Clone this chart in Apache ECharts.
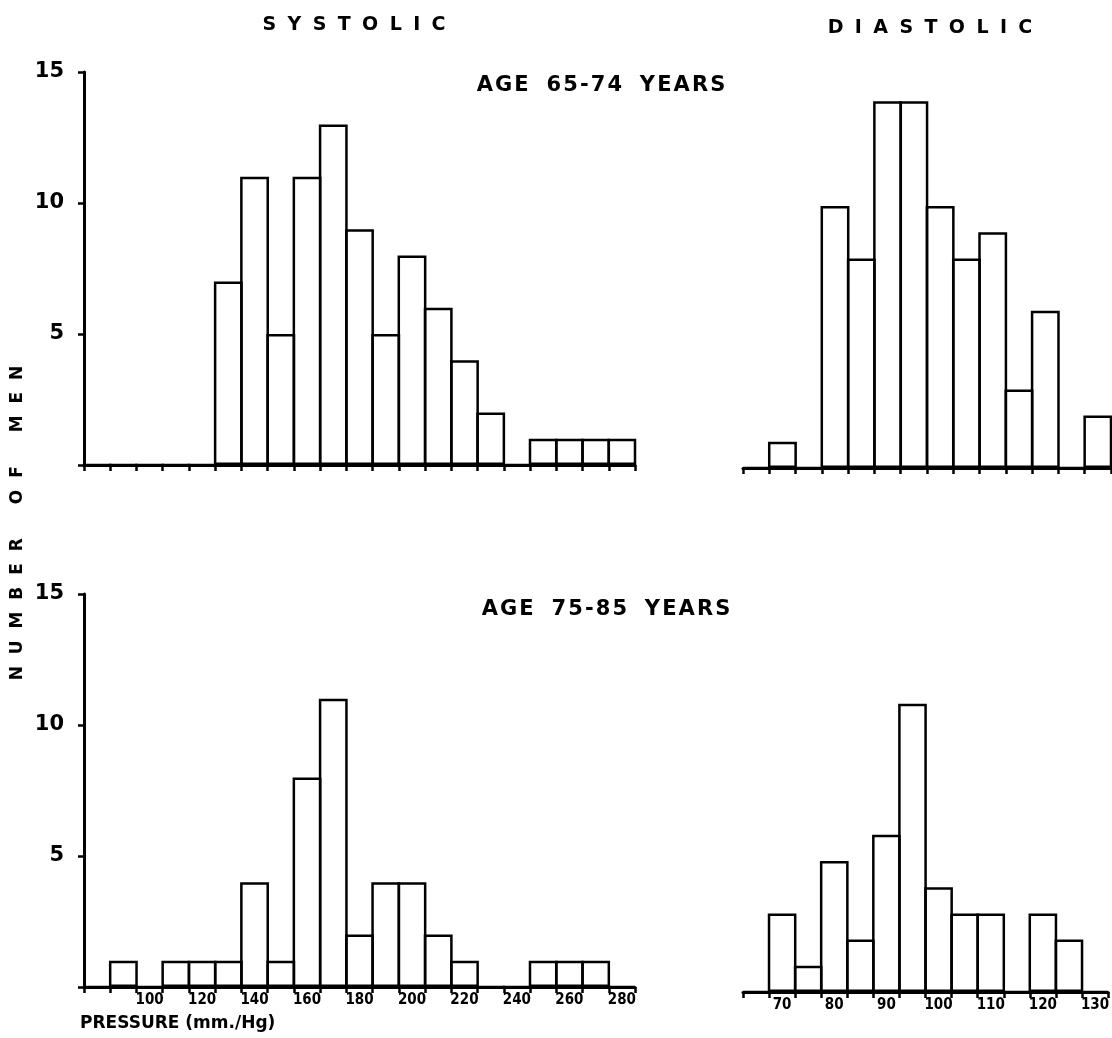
<!DOCTYPE html>
<html>
<head>
<meta charset="utf-8">
<script src="https://cdn.jsdelivr.net/npm/echarts@6/dist/echarts.min.js"></script>
<style>
html,body{margin:0;padding:0;background:#fff;}
#chart{width:1112px;height:1038px;}
</style>
</head>
<body>
<div id="chart"></div>
<script>
// Bin centres (mm Hg)
const systolicBins = ['80','90','100','110','120','130','140','150','160','170','180','190','200','210','220','230','240','250','260','270','280'];
const diastolicBins = ['65','70','75','80','85','90','95','100','105','110','115','120','125','130'];
// Number of men per bin
const systolic6574 = [0,0,0,0,0,7,11,5,11,13,9,5,8,6,4,2,0,1,1,1,1];
const diastolic6574 = [0,1,0,10,8,14,14,10,8,9,3,6,0,2];
const systolic7585 = [0,1,0,1,1,1,4,1,8,11,2,4,4,2,1,0,0,1,1,1,0];
const diastolic7585 = [0,3,1,5,2,6,11,4,3,3,0,3,2,0];
// Tick labels
const systolicTickLabels = ['100','120','140','160','180','200','220','240','260','280'];
const diastolicTickLabels = ['70','80','90','100','110','120','130'];
const yTickLabels = ['5','10','15'];

const FONT = '"DejaVu Sans", "Liberation Sans", sans-serif';
const spaced = (s, gap, wordGap) => s.split(' ').map(w => w.split('').join(gap)).join(wordGap);

const chart = echarts.init(document.getElementById('chart'), null, {renderer: 'canvas'});

const grids = [
  {left: 84, width: 551, top: 72, height: 393},
  {left: 743, width: 368, top: 75, height: 393},
  {left: 84, width: 551, top: 594, height: 393},
  {left: 743, width: 368, top: 599, height: 393}
];

function xAxis(gridIndex, cats, labels, showLabels) {
  return {
    type: 'category', gridIndex, data: cats, boundaryGap: true,
    axisLine: {show: true, lineStyle: {color: '#000', width: 3}},
    axisTick: {show: true, interval: 0, alignWithLabel: false, length: 6, lineStyle: {color: '#000', width: 2.5}},
    axisLabel: {
      show: showLabels,
      interval: (i, v) => labels.indexOf(v) >= 0,
      color: '#000', fontFamily: '"DejaVu Sans Condensed", "DejaVu Sans", sans-serif', fontWeight: 'bold', fontSize: 15, margin: 6
    },
    splitLine: {show: false}
  };
}
function yAxis(gridIndex, show) {
  return {
    type: 'value', gridIndex, min: 0, max: 15, interval: 5, show: show,
    axisLine: {show: true, lineStyle: {color: '#000', width: 3}},
    axisTick: {show: true, length: 6, lineStyle: {color: '#000', width: 2.5}},
    axisLabel: {
      color: '#000', fontFamily: FONT, fontWeight: 'bold', fontSize: 21, margin: 20,
      formatter: v => yTickLabels.indexOf(String(v)) >= 0 ? String(v) : ''
    },
    splitLine: {show: false}
  };
}
function bars(i, data) {
  return {
    type: 'bar', xAxisIndex: i, yAxisIndex: i, data,
    barWidth: '110%', barCategoryGap: 0, silent: true,
    itemStyle: {color: 'rgba(255,255,255,0)', borderColor: '#000', borderWidth: 2.5},
    animation: false
  };
}

const option = {
  backgroundColor: '#fff',
  animation: false,
  grid: grids,
  xAxis: [
    xAxis(0, systolicBins, systolicTickLabels, false),
    xAxis(1, diastolicBins, diastolicTickLabels, false),
    xAxis(2, systolicBins, systolicTickLabels, true),
    xAxis(3, diastolicBins, diastolicTickLabels, true)
  ],
  yAxis: [yAxis(0, true), yAxis(1, false), yAxis(2, true), yAxis(3, false)],
  series: [
    bars(0, systolic6574), bars(1, diastolic6574),
    bars(2, systolic7585), bars(3, diastolic7585)
  ],
  graphic: [
    {type: 'text', x: 354, y: 25, style: {text: spaced('SYSTOLIC', '\u2002\u200a', '   '), font: 'bold 19px ' + FONT, fill: '#000', textAlign: 'center', textVerticalAlign: 'middle'}},
    {type: 'text', x: 930, y: 28, style: {text: spaced('DIASTOLIC', '\u2002\u200a', '   '), font: 'bold 19px ' + FONT, fill: '#000', textAlign: 'center', textVerticalAlign: 'middle'}},
    {type: 'text', x: 601, y: 86, style: {text: spaced('AGE 65-74 YEARS', '\u200a', '\u2002 '), font: 'bold 21px ' + FONT, fill: '#000', textAlign: 'center', textVerticalAlign: 'middle'}},
    {type: 'text', x: 606, y: 610, style: {text: spaced('AGE 75-85 YEARS', '\u200a', '\u2002 '), font: 'bold 21px ' + FONT, fill: '#000', textAlign: 'center', textVerticalAlign: 'middle'}},
    {type: 'text', x: 18, y: 523, rotation: Math.PI / 2, style: {text: spaced('NUMBER OF MEN', '\u2002\u2009', '\u2003\u2003'), font: 'bold 17px ' + FONT, fill: '#000', textAlign: 'center', textVerticalAlign: 'middle'}},
    {type: 'text', x: 80, y: 1024, style: {text: 'PRESSURE (mm./Hg)', font: 'bold 17px ' + FONT, fill: '#000', textAlign: 'left', textVerticalAlign: 'middle'}}
  ]
};
chart.setOption(option);
</script>
</body>
</html>
